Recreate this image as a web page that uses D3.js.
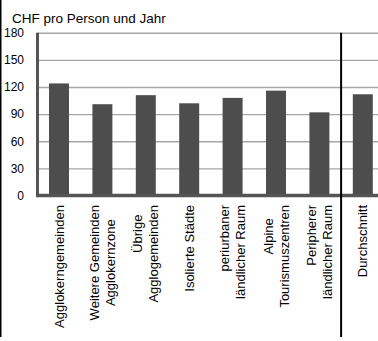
<!DOCTYPE html>
<html>
<head>
<meta charset="utf-8">
<script src="https://cdn.jsdelivr.net/npm/d3@7"></script>
<style>
  html, body { margin: 0; padding: 0; background: #fff; }
  svg { display: block; font-family: "Liberation Sans", Arial, sans-serif; }
</style>
</head>
<body>
<svg id="chart" width="378" height="341"></svg>
<script>
// Regional categories (multi-line labels) and average cost per person and year
const categories = [
  "Agglokerngemeinden",
  "Weitere Gemeinden Agglokernzone",
  "Übrige Agglogemeinden",
  "Isolierte Städte",
  "periurbaner ländlicher Raum",
  "Alpine Tourismuszentren",
  "Peripherer ländlicher Raum",
  "Durchschnitt"
];
const labelLines = [
  ["Agglokerngemeinden"],
  ["Weitere Gemeinden", "Agglokernzone"],
  ["Übrige", "Agglogemeinden"],
  ["Isolierte Städte"],
  ["periurbaner", "ländlicher Raum"],
  ["Alpine", "Tourismuszentren"],
  ["Peripherer", "ländlicher Raum"],
  ["Durchschnitt"]
];
const values = [124, 101, 111, 102, 108, 116, 92, 112];
const yTicks = [0, 30, 60, 90, 120, 150, 180];
const unitTitle = "CHF pro Person und Jahr";

const svg = d3.select("#chart");
const W = 378, H = 341;

const x = d3.scaleBand()
  .domain(categories)
  .range([37.3, 384.5])
  .paddingInner(0.54)
  .paddingOuter(0.27);

const y = d3.scaleLinear().domain([0, 180]).range([195.5, 32.8]);

// frame line on the left edge
svg.append("line")
  .attr("x1", 0.75).attr("x2", 0.75)
  .attr("y1", 0).attr("y2", 337)
  .attr("stroke", "#000").attr("stroke-width", 1.5);

// title
svg.append("text")
  .attr("x", 12).attr("y", 23)
  .attr("font-size", 13.5)
  .attr("fill", "#000")
  .text(unitTitle);

// horizontal gridlines
const grid = d3.axisLeft(y).tickValues(yTicks).tickSize(-(W - 37)).tickFormat("");
svg.append("g")
  .attr("transform", "translate(37,0)")
  .call(grid)
  .call(g => g.select(".domain").remove())
  .call(g => g.selectAll("line").attr("stroke", "#a6a6a6").attr("stroke-width", 1.4));

// y tick labels
const yAxis = d3.axisLeft(y).tickValues(yTicks).tickSize(0).tickPadding(0);
svg.append("g")
  .attr("transform", "translate(24,0)")
  .call(yAxis)
  .call(g => g.select(".domain").remove())
  .call(g => g.selectAll("text")
    .attr("font-size", 12)
    .attr("font-family", "Liberation Sans, Arial, sans-serif")
    .attr("fill", "#000"));

// bars
svg.append("g")
  .selectAll("rect")
  .data(values)
  .join("rect")
  .attr("x", (d, i) => x(categories[i]))
  .attr("width", x.bandwidth())
  .attr("y", d => y(d))
  .attr("height", d => y(0) - y(d))
  .attr("fill", "#4d4d4d");

// axis lines
svg.append("line")
  .attr("x1", 37.5).attr("x2", 37.5)
  .attr("y1", y(180)).attr("y2", y(0) + 1.5)
  .attr("stroke", "#555").attr("stroke-width", 3);
svg.append("line")
  .attr("x1", 36).attr("x2", W)
  .attr("y1", y(0)).attr("y2", y(0))
  .attr("stroke", "#555").attr("stroke-width", 3.5);

// separator before the average
const step = x.step();
const sepX = x(categories[categories.length - 1]) - (step - x.bandwidth()) / 2;
svg.append("line")
  .attr("x1", sepX).attr("x2", sepX)
  .attr("y1", y(180)).attr("y2", 337)
  .attr("stroke", "#000").attr("stroke-width", 2);

// rotated category labels
const labelTop = 205;
const lineH = 16;
const fs = 13;
labelLines.forEach((lines, i) => {
  const cx = x(categories[i]) + x.bandwidth() / 2;
  const g = svg.append("g")
    .attr("transform", `translate(${cx},${labelTop}) rotate(-90)`);
  const texts = lines.map((t, j) => g.append("text")
    .attr("font-size", fs)
    .attr("fill", "#000")
    .attr("text-anchor", "middle")
    .attr("dy", "0.35em")
    .attr("y", (j - (lines.length - 1) / 2) * lineH)
    .text(t));
  const lens = texts.map(t => t.node().getComputedTextLength());
  const blockW = d3.max(lens);
  texts.forEach((t, j) => {
    let c = blockW / 2;
    if (lines.length > 1 && j === 0) c = Math.max(blockW / 2 - 20, lens[j] / 2);
    t.attr("x", -c);
  });
});
</script>
</body>
</html>
